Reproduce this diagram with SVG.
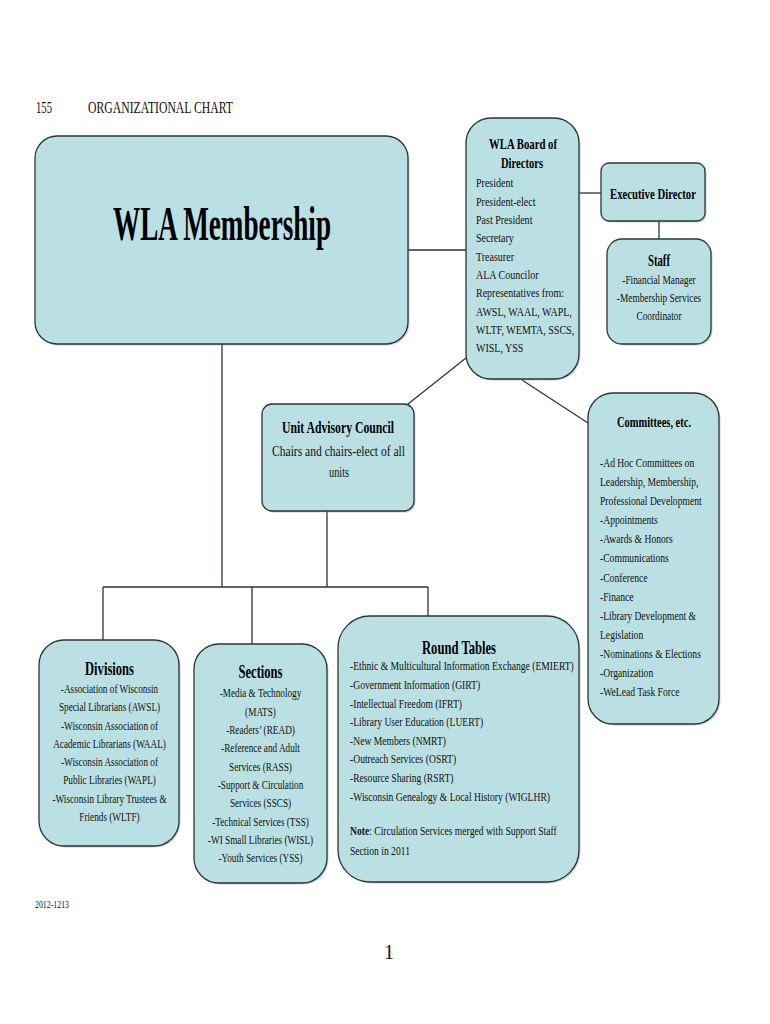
<svg xmlns="http://www.w3.org/2000/svg" width="770" height="1024" viewBox="0 0 770 1024">
<style>
.box{fill:#bbe0e3;stroke:#2b3535;stroke-width:1.3}
.sh{fill:#8a9a9a;opacity:0.45}
.ln{stroke:#2b3535;stroke-width:1.3;fill:none}
text{font-family:"Liberation Serif","Times New Roman",serif;fill:#111}
.b{font-weight:bold;fill:#000}
.t{font-size:13px}
.c{text-anchor:middle}
</style>
<rect width="770" height="1024" fill="#fff"/>
<g id="header">
<text x="36" y="113" font-size="16" textLength="16" lengthAdjust="spacingAndGlyphs">155</text>
<text x="88" y="113" font-size="16" textLength="145" lengthAdjust="spacingAndGlyphs">ORGANIZATIONAL CHART</text>
</g>
<g id="connectors">
<line class="ln" x1="408" y1="250" x2="466" y2="250"/>
<line class="ln" x1="579" y1="193" x2="601" y2="193"/>
<line class="ln" x1="659" y1="221" x2="659" y2="239"/>
<line class="ln" x1="466" y1="358" x2="408" y2="404"/>
<line class="ln" x1="522" y1="380" x2="588" y2="423"/>
<line class="ln" x1="222" y1="344" x2="222" y2="587"/>
<line class="ln" x1="327" y1="511" x2="327" y2="587"/>
<line class="ln" x1="103" y1="587" x2="428" y2="587"/>
<line class="ln" x1="103" y1="587" x2="103" y2="640"/>
<line class="ln" x1="252" y1="587" x2="252" y2="644"/>
<line class="ln" x1="428" y1="587" x2="428" y2="616"/>
</g>
<g id="membership">
<rect class="sh" x="36.5" y="137.5" width="373" height="208" rx="22"/>
<rect class="box" x="35" y="136" width="373" height="208" rx="22"/>
<text class="b c" x="222" y="240" font-size="48" textLength="218" lengthAdjust="spacingAndGlyphs">WLA Membership</text>
</g>
<g id="board">
<rect class="sh" x="467.5" y="119.5" width="113" height="261" rx="25"/>
<rect class="box" x="466" y="118" width="113" height="261" rx="25"/>
<text class="b c" x="523" y="149" font-size="15" textLength="68" lengthAdjust="spacingAndGlyphs">WLA Board of</text>
<text class="b c" x="522" y="168" font-size="15" textLength="42" lengthAdjust="spacingAndGlyphs">Directors</text>
<g transform="translate(476,0) scale(0.77,1)" class="t">
<text x="0" y="187.5">President</text>
<text x="0" y="205.8">President-elect</text>
<text x="0" y="224.1">Past President</text>
<text x="0" y="242.4">Secretary</text>
<text x="0" y="260.7">Treasurer</text>
<text x="0" y="279">ALA Councilor</text>
<text x="0" y="297.3">Representatives from:</text>
<text x="0" y="315.6">AWSL, WAAL, WAPL,</text>
<text x="0" y="333.9">WLTF, WEMTA, SSCS,</text>
<text x="0" y="352.2">WISL, YSS</text>
</g>
</g>
<g id="exec">
<rect class="sh" x="602.5" y="164.5" width="104" height="58" rx="8"/>
<rect class="box" x="601" y="163" width="104" height="58" rx="8"/>
<text class="b c" x="653" y="199" font-size="15" textLength="86" lengthAdjust="spacingAndGlyphs">Executive Director</text>
</g>
<g id="staff">
<rect class="sh" x="608.5" y="240.5" width="104" height="105" rx="15"/>
<rect class="box" x="607" y="239" width="104" height="105" rx="15"/>
<text class="b c" x="659" y="266" font-size="16" textLength="22" lengthAdjust="spacingAndGlyphs">Staff</text>
<g transform="translate(659,0) scale(0.72,1)" class="t c">
<text x="0" y="284.5">-Financial Manager</text>
<text x="0" y="302.5">-Membership Services</text>
<text x="0" y="320.5">Coordinator</text>
</g>
</g>
<g id="uac">
<rect class="sh" x="263.5" y="405.5" width="152" height="107" rx="10"/>
<rect class="box" x="262" y="404" width="152" height="107" rx="10"/>
<text class="b c" x="338" y="433" font-size="16" textLength="112" lengthAdjust="spacingAndGlyphs">Unit Advisory Council</text>
<text class="c" x="338.5" y="456" font-size="15" textLength="133" lengthAdjust="spacingAndGlyphs">Chairs and chairs-elect of all</text>
<text class="c" x="339" y="477" font-size="15" textLength="20" lengthAdjust="spacingAndGlyphs">units</text>
</g>
<g id="committees">
<rect class="sh" x="589.5" y="394.5" width="131" height="331" rx="25"/>
<rect class="box" x="588" y="393" width="131" height="331" rx="25"/>
<text class="b c" x="654" y="426.5" font-size="15" textLength="74" lengthAdjust="spacingAndGlyphs">Committees, etc.</text>
<g transform="translate(600,0) scale(0.74,1)" class="t">
<text x="0" y="467">-Ad Hoc Committees on</text>
<text x="0" y="486.1">Leadership, Membership,</text>
<text x="0" y="505.2">Professional Development</text>
<text x="0" y="524.3">-Appointments</text>
<text x="0" y="543.4">-Awards &amp; Honors</text>
<text x="0" y="562.5">-Communications</text>
<text x="0" y="581.6">-Conference</text>
<text x="0" y="600.7">-Finance</text>
<text x="0" y="619.8">-Library Development &amp;</text>
<text x="0" y="638.9">Legislation</text>
<text x="0" y="658">-Nominations &amp; Elections</text>
<text x="0" y="677.1">-Organization</text>
<text x="0" y="696.2">-WeLead Task Force</text>
</g>
</g>
<g id="divisions">
<rect class="sh" x="40.5" y="641.5" width="140" height="206" rx="25"/>
<rect class="box" x="39" y="640" width="140" height="206" rx="25"/>
<text class="b c" x="109.5" y="675" font-size="19" textLength="49" lengthAdjust="spacingAndGlyphs">Divisions</text>
<g transform="translate(109.5,0) scale(0.71,1)" class="t c">
<text x="0" y="693">-Association of Wisconsin</text>
<text x="0" y="711.3">Special Librarians (AWSL)</text>
<text x="0" y="729.6">-Wisconsin Association of</text>
<text x="0" y="747.9">Academic Librarians (WAAL)</text>
<text x="0" y="766.2">-Wisconsin Association of</text>
<text x="0" y="784.5">Public Libraries (WAPL)</text>
<text x="0" y="802.8">-Wisconsin Library Trustees &amp;</text>
<text x="0" y="821.1">Friends (WLTF)</text>
</g>
</g>
<g id="sections">
<rect class="sh" x="195.5" y="645.5" width="133" height="239" rx="25"/>
<rect class="box" x="194" y="644" width="133" height="239" rx="25"/>
<text class="b c" x="260.5" y="678" font-size="19" textLength="44" lengthAdjust="spacingAndGlyphs">Sections</text>
<g transform="translate(260.5,0) scale(0.71,1)" class="t c">
<text x="0" y="697.5">-Media &amp; Technology</text>
<text x="0" y="715.8">(MATS)</text>
<text x="0" y="734.1">-Readers’ (READ)</text>
<text x="0" y="752.4">-Reference and Adult</text>
<text x="0" y="770.7">Services (RASS)</text>
<text x="0" y="789">-Support &amp; Circulation</text>
<text x="0" y="807.3">Services (SSCS)</text>
<text x="0" y="825.6">-Technical Services (TSS)</text>
<text x="0" y="843.9">-WI Small Libraries (WISL)</text>
<text x="0" y="862.2">-Youth Services (YSS)</text>
</g>
</g>
<g id="roundtables">
<rect class="sh" x="339.5" y="617.5" width="241" height="266" rx="32"/>
<rect class="box" x="338" y="616" width="241" height="266" rx="32"/>
<text class="b c" x="459" y="654" font-size="19" textLength="74" lengthAdjust="spacingAndGlyphs">Round Tables</text>
<g transform="translate(350,0) scale(0.74,1)" class="t">
<text x="0" y="670.5">-Ethnic &amp; Multicultural Information Exchange (EMIERT)</text>
<text x="0" y="689.1">-Government Information (GIRT)</text>
<text x="0" y="707.7">-Intellectual Freedom (IFRT)</text>
<text x="0" y="726.3">-Library User Education (LUERT)</text>
<text x="0" y="744.9">-New Members (NMRT)</text>
<text x="0" y="763.5">-Outreach Services (OSRT)</text>
<text x="0" y="782.1">-Resource Sharing (RSRT)</text>
<text x="0" y="800.7">-Wisconsin Genealogy &amp; Local History (WIGLHR)</text>
<text x="0" y="835.5"><tspan font-weight="bold">Note</tspan>: Circulation Services merged with Support Staff</text>
<text x="0" y="855">Section in 2011</text>
</g>
</g>
<g id="footer">
<text x="35" y="908" font-size="11" textLength="34" lengthAdjust="spacingAndGlyphs">2012-1213</text>
<text x="384" y="959" font-size="20">1</text>
</g>
</svg>
